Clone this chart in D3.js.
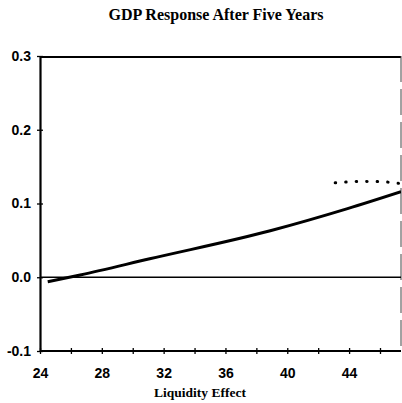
<!DOCTYPE html>
<html>
<head>
<meta charset="utf-8">
<script src="https://cdn.jsdelivr.net/npm/d3@7"></script>
<style>
  body { margin: 0; background: #fff; }
  .tick text { font-family: "Liberation Sans", Arial, sans-serif; font-weight: bold; font-size: 14px; fill: #000; }
</style>
</head>
<body>
<div id="chart"></div>
<script>
// GDP response after five years vs liquidity effect
const liquidity = [24.5, 26.6, 31.1, 38.9, 43.9, 47.36];
const response = [-0.006, 0.003, 0.025, 0.063, 0.093, 0.116];

// dotted segment near the right edge
const dotLiquidity = [43.1, 45.0, 46.5, 47.3];
const dotResponse = [0.128, 0.130, 0.129, 0.127];

const xTicks = [24, 26, 28, 30, 32, 34, 36, 38, 40, 42, 44, 46];
const yTicks = [-0.1, 0.0, 0.1, 0.2, 0.3];

const W = 402, H = 403;
const plot = {left: 40, right: 401, top: 56, bottom: 351};

const svg = d3.select("#chart").append("svg")
    .attr("width", W)
    .attr("height", H)

svg.append("rect").attr("width", W).attr("height", H).attr("fill", "#fff")

const xScale = d3.scaleLinear()
    .domain([24, 46])
    .range([plot.left, 380])

const yScale = d3.scaleLinear()
    .domain([-0.1, 0.3])
    .range([plot.bottom, plot.top])

// title
svg.append("text")
    .attr("x", 216)
    .attr("y", 20)
    .attr("text-anchor", "middle")
    .style("font-family", "'Liberation Serif', 'Times New Roman', serif")
    .style("font-weight", "bold")
    .style("font-size", "16px")
    .text("GDP Response After Five Years")

// frame: top and (broken) right border
svg.append("line")
    .attr("x1", plot.left).attr("x2", plot.right)
    .attr("y1", plot.top + 1).attr("y2", plot.top + 1)
    .attr("stroke", "#000").attr("stroke-width", 2)

svg.append("line")
    .attr("x1", plot.right).attr("x2", plot.right)
    .attr("y1", plot.top).attr("y2", plot.bottom)
    .attr("stroke", "#444").attr("stroke-width", 1)
    .attr("stroke-dasharray", "26,7")

// zero line
svg.append("line")
    .attr("x1", plot.left).attr("x2", plot.right)
    .attr("y1", yScale(0)).attr("y2", yScale(0))
    .attr("stroke", "#000").attr("stroke-width", 1.6)

// axes
const xAxis = d3.axisBottom(xScale)
    .tickValues(xTicks)
    .tickFormat(d => d % 4 === 0 ? d : "")
    .tickSizeOuter(0)

const yAxis = d3.axisLeft(yScale)
    .tickValues(yTicks)
    .tickFormat(d => d3.format(".1f")(d).replace("\u2212", "-"))
    .tickSizeOuter(0)

const xAxisGroup = svg.append("g")
    .attr("transform", `translate(0, ${plot.bottom})`)
    .call(xAxis)

xAxisGroup.select(".domain").attr("d", `M${plot.left},0H${plot.right}`).attr("stroke-width", 2.2)
xAxisGroup.selectAll(".tick line").attr("y1", -3).attr("y2", 3).attr("stroke-width", 1.3)
xAxisGroup.selectAll(".tick text").attr("y", 17)

const yAxisGroup = svg.append("g")
    .attr("transform", `translate(${plot.left}, 0)`)
    .call(yAxis)

yAxisGroup.select(".domain").attr("stroke-width", 2.2)
yAxisGroup.selectAll(".tick line").attr("x1", -3).attr("x2", 3).attr("stroke-width", 1.3)
yAxisGroup.selectAll(".tick text").attr("x", -9)

// x axis title
svg.append("text")
    .attr("x", 200)
    .attr("y", 397)
    .attr("text-anchor", "middle")
    .style("font-family", "'Liberation Serif', 'Times New Roman', serif")
    .style("font-weight", "bold")
    .style("font-size", "13.5px")
    .text("Liquidity Effect")

// lines
svg.append("clipPath").attr("id", "plotclip")
    .append("rect")
    .attr("x", plot.left).attr("y", plot.top)
    .attr("width", plot.right - plot.left).attr("height", plot.bottom - plot.top)

const line = d3.line()
    .x(i => xScale(liquidity[i]))
    .y(i => yScale(response[i]))
    .curve(d3.curveMonotoneX)

svg.append("path")
    .datum(d3.range(liquidity.length))
    .attr("d", line)
    .attr("fill", "none")
    .attr("stroke", "#000")
    .attr("stroke-width", 3)
    .attr("clip-path", "url(#plotclip)")

const dotLine = d3.line()
    .x(i => xScale(dotLiquidity[i]))
    .y(i => yScale(dotResponse[i]))
    .curve(d3.curveMonotoneX)

svg.append("path")
    .datum(d3.range(dotLiquidity.length))
    .attr("d", dotLine)
    .attr("fill", "none")
    .attr("stroke", "#000")
    .attr("stroke-width", 3)
    .attr("stroke-linecap", "round")
    .attr("stroke-dasharray", "0.5,10")
    .attr("clip-path", "url(#plotclip)")
</script>
</body>
</html>
